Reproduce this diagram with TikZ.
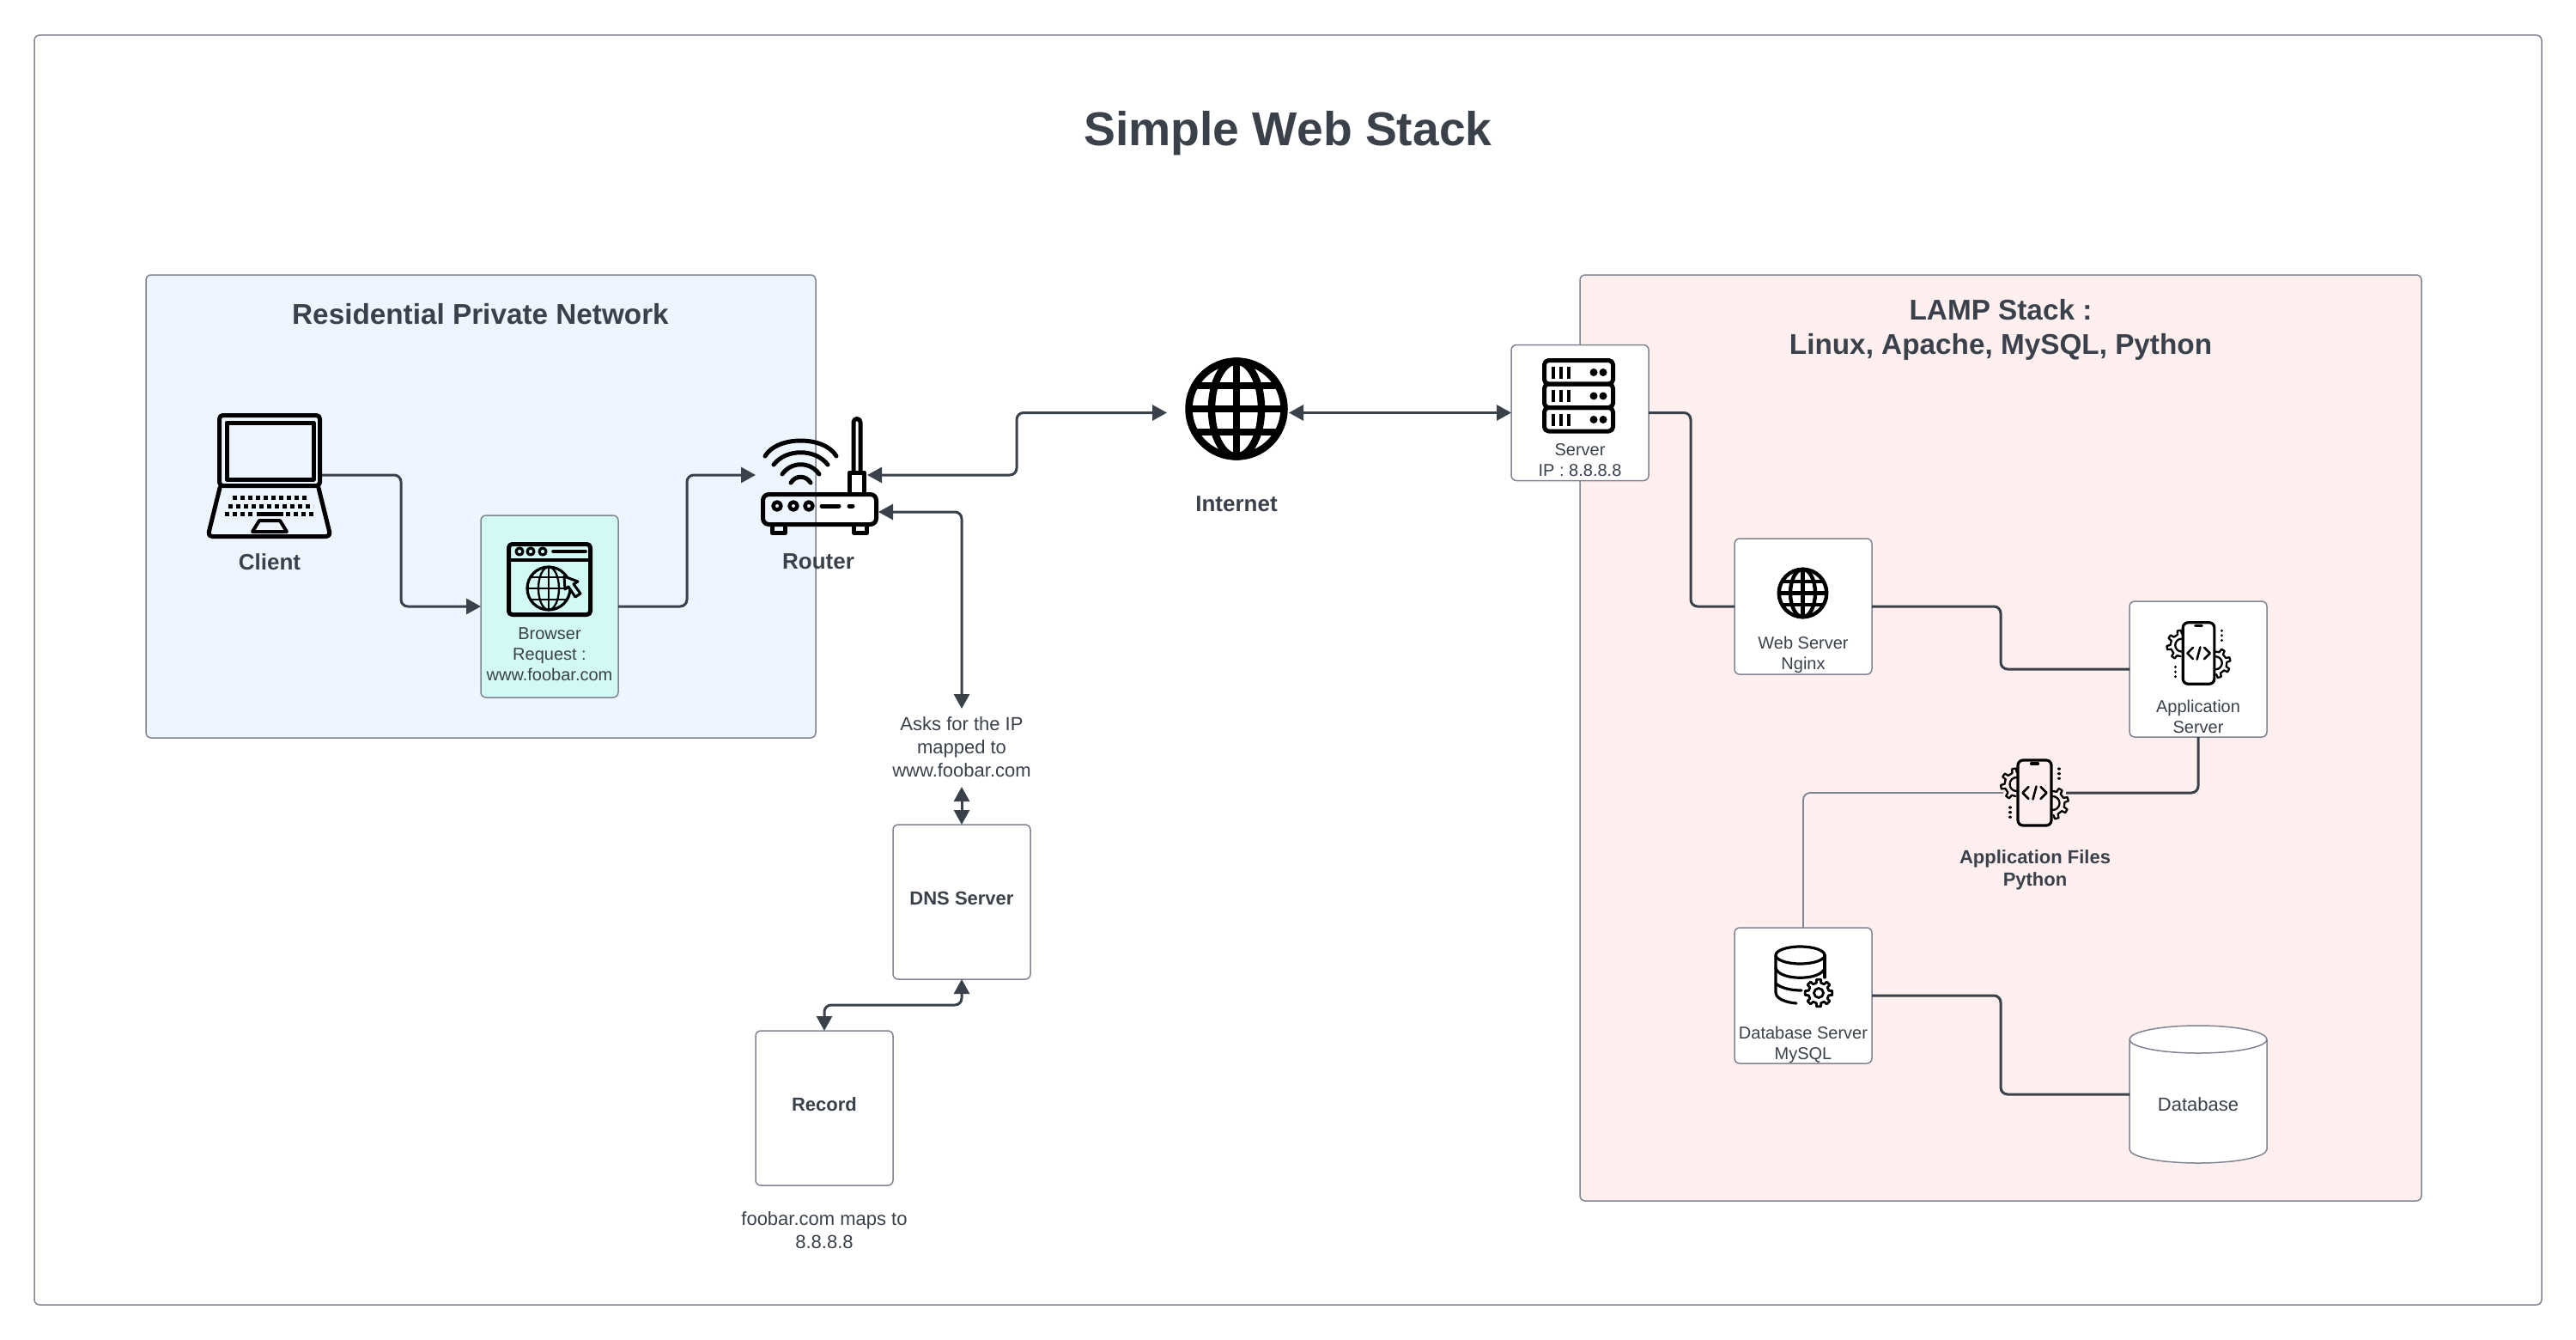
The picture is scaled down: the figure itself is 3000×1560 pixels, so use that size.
\documentclass[tikz,border=0pt]{standalone}
\usepackage{fontspec}
\setmainfont{Liberation Sans}
\usetikzlibrary{arrows.meta}
\definecolor{ink}{HTML}{3A414A}
\definecolor{edge}{HTML}{7F8490}
\definecolor{homeblue}{HTML}{EDF5FF}
\definecolor{lamppink}{HTML}{FFF0EF}
\definecolor{browsermint}{HTML}{D3F9F4}

\begin{document}
\begin{tikzpicture}[x=1pt, y=-1pt,
  every node/.style = {align=center, inner sep=0pt, outer sep=0pt, text=ink},
  panel/.style = {shape=rectangle, draw=edge, line width=1.5pt, rounded corners=6pt},
  card/.style = {panel, fill=white, minimum width=160pt, minimum height=158pt},
  spot/.style = {shape=rectangle},
  smalltext/.style = {font=\fontsize{20}{24}\selectfont},
  notetext/.style = {font=\fontsize{22}{27}\selectfont},
  boldtext/.style = {font=\fontsize{22}{26.5}\selectfont\bfseries},
  headtext/.style = {font=\fontsize{26}{30}\selectfont\bfseries},
  paneltext/.style = {font=\fontsize{33.3}{40}\selectfont\bfseries},
  wire/.style = {draw=ink, line width=3pt, rounded corners=8pt},
  flow/.style = {wire, -{Triangle[length=17pt,width=18pt]}},
  twoway/.style = {wire, {Triangle[length=17pt,width=18pt]}-{Triangle[length=17pt,width=18pt]}},
  icon/.style = {draw=black, line width=5pt, line cap=round, line join=round},
  fineicon/.style = {icon, line width=3.2pt},
  cogline/.style = {icon, line width=2.3pt},
  globe/.pic = {
    \draw[draw=black] (0,0) circle[radius=55.5];
    \draw[draw=black] (0,0) ellipse[x radius=29, y radius=55.5];
    \draw[draw=black] (0,-55.5) -- (0,55.5);
    \draw[draw=black] (-55.5,0) -- (55.5,0);
    \draw[draw=black] (-48,-27) -- (48,-27);
    \draw[draw=black] (-48,27) -- (48,27);
  },
  phone/.pic = {
    \draw[fineicon, rounded corners=6pt] (-19.5,-38) rectangle (19.5,38);
    \draw[fineicon] (-4,-34) -- (4,-34);
    \draw[cogline, line width=2.6pt] (-7,-7) -- (-14,0) -- (-7,7);
    \draw[cogline, line width=2.6pt] (7,-7) -- (14,0) -- (7,7);
    \draw[cogline, line width=2.6pt] (2,-7.5) -- (-2,7.5);
    \draw[cogline, shift={(-21,-10)}] (95:14)
      \foreach \a in {125,170,215,260} { -- (\a-11:14) -- (\a-7:18.5) -- (\a+7:18.5) -- (\a+11:14) };
    \draw[cogline, shift={(21,12)}] (-90:14)
      \foreach \a in {-60,-15,30,75} { -- (\a-11:14) -- (\a-7:18.5) -- (\a+7:18.5) -- (\a+11:14) };
    \draw[cogline] (-21,-2) arc[start angle=90, end angle=270, radius=8];
    \draw[cogline] (21,20) arc[start angle=90, end angle=-90, radius=8];
    \draw[fineicon, dash pattern=on 0.1pt off 5.5pt] (28.5,-28) -- (28.5,-14);
    \draw[fineicon, dash pattern=on 0.1pt off 5.5pt] (-28.5,17) -- (-28.5,31);
  }]
  \useasboundingbox (0,0) rectangle (3000,1560);

  \node[panel, fill=white, minimum width=2920pt, minimum height=1478pt] (frame) at (1500,780) {};
  \node[font=\fontsize{55.3}{60}\selectfont\bfseries] (title) at (1500,155) {Simple Web Stack};

  \node[panel, fill=homeblue, minimum width=780pt, minimum height=539pt] (home) at (560,589.5) {};
  \node[panel, fill=lamppink, minimum width=980pt, minimum height=1078pt] (lamp) at (2330,859) {};
  \node[paneltext] (hometitle) at (559.5,366) {Residential Private Network};
  \node[paneltext] (lamptitle) at (2330,384) {LAMP Stack :\\Linux, Apache, MySQL, Python};

  \node[spot, minimum width=122pt, minimum height=147pt] (client) at (314,553) {};
  \node[headtext] (clienttext) at (314,654) {Client};
  \node[panel, fill=browsermint, minimum width=160pt, minimum height=212pt] (browser) at (640,706) {};
  \node[smalltext] (browsertext) at (640,762) {Browser\\Request :\\www.foobar.com};
  \node[spot, minimum width=130pt, minimum height=60pt] (router) at (945,553) {};
  \node[spot, minimum width=137pt, minimum height=34pt] (routerbase) at (954.5,596) {};
  \node[headtext] (routertext) at (953,654) {Router};
  \node[spot, minimum width=142pt, minimum height=120pt] (internet) at (1430,480.5) {};
  \node[headtext] (internettext) at (1440,587) {Internet};
  \node[spot, minimum width=160pt, minimum height=91pt] (asks) at (1120,870.5) {};
  \node[notetext] (askstext) at (1120,870) {Asks for the IP\\mapped to\\www.foobar.com};
  \node[card, minimum height=180pt] (dns) at (1120,1050) {};
  \node[boldtext] (dnstext) at (1120,1046) {DNS Server};
  \node[card, minimum height=180pt] (record) at (960,1290) {};
  \node[boldtext] (recordtext) at (960,1286) {Record};
  \node[notetext] (recordnote) at (960,1432) {foobar.com maps to\\8.8.8.8};

  \node[card] (server) at (1840,480.5) {};
  \node[smalltext] (servertext) at (1840,535.5) {Server\\IP : 8.8.8.8};
  \node[card] (web) at (2100,706) {};
  \node[smalltext] (webtext) at (2100,762.5) {Web Server\\Nginx};
  \node[card] (app) at (2560,779) {};
  \node[smalltext] (apptext) at (2560,834) {Application\\Server};
  \node[spot, minimum width=73pt, minimum height=80pt] (files) at (2369.5,923) {};
  \node[boldtext] (filestext) at (2370,1013) {Application Files\\Python};
  \node[card] (db) at (2100,1159) {};
  \node[smalltext] (dbtext) at (2100,1216) {Database Server\\MySQL};
  \node[spot, minimum width=160pt, minimum height=160pt] (store) at (2560,1274) {};
  \draw[draw=edge, line width=1.5pt, fill=white] (store.west |- 0,1210) -- (store.west |- 0,1338)
    arc[start angle=180, end angle=0, x radius=80, y radius=16] -- (store.east |- 0,1210)
    arc[start angle=0, end angle=-180, x radius=80, y radius=16]
    arc[start angle=180, end angle=0, x radius=80, y radius=16];
  \node[notetext] (storetext) at (2560,1286) {Database};

  \draw[flow] (client.east) -| (467,706) -- (browser.west);
  \draw[flow] (browser.east) -| (800,553) -- (router.west);
  \draw[twoway] (router.east) -| (1184,480.5) -- (internet.west);
  \draw[twoway] (internet.east) -- (server.west);
  \draw[twoway] (routerbase.east) -| (asks.north);
  \draw[twoway] (asks.south) -- (dns.north);
  \draw[twoway] (dns.south) -- ++(0,30) -| (record.north);
  \draw[wire] (server.east) -| (1969,706) -- (web.west);
  \draw[wire] (web.east) -| (2330,779) -- (app.west);
  \draw[wire] (app.south) |- (files.east);
  \draw[wire, draw=edge, line width=1.8pt] (files.west) -| (db.north);
  \draw[wire] (db.east) -| (2330,1274) -- (store.west);

  \draw[icon, rounded corners=4pt] (255.5,483.5) rectangle (372.5,565.5);
  \draw[icon] (264,492) rectangle (365,558);
  \draw[icon, rounded corners=5pt] (256,568) -- (242,624.5) -- (385,624.5) -- (371,568);
  \draw[icon, line cap=butt, dash pattern=on 5pt off 4pt] (271,579) -- (359,579);
  \draw[icon, line cap=butt, dash pattern=on 5pt off 4pt] (266,589) -- (365,589);
  \draw[icon, line cap=butt, dash pattern=on 5pt off 4pt] (262,598) -- (297,598);
  \draw[icon, line cap=butt] (299,598) -- (330,598);
  \draw[icon, line cap=butt, dash pattern=on 5pt off 4pt] (333,598) -- (368,598);
  \draw[icon, line width=4pt] (302,606) -- (326,606) -- (334,619) -- (294,619) -- cycle;

  \draw[icon, rounded corners=4pt] (592.5,633.5) rectangle (687.5,715.5);
  \draw[fineicon] (592,652) -- (688,652);
  \foreach \x in {605,618,632} \draw[fineicon] (\x,642) circle[radius=4];
  \draw[icon, line width=3.6pt] (644,642) -- (682,642);
  \draw[fineicon] (639,685) circle[radius=25];
  \draw[cogline] (639,685) ellipse[x radius=12, y radius=25];
  \draw[cogline] (639,660) -- (639,710);
  \draw[cogline] (614,685) -- (664,685);
  \draw[cogline] (618,672) -- (660,672);
  \draw[cogline] (618,698) -- (660,698);
  \draw[cogline, line width=3pt, fill=browsermint] (657,671) -- (658,686) -- (662,683) -- (670,695) -- (676,691) -- (668,680) -- (673,677) -- cycle;

  \draw[icon, rounded corners=7pt] (888.5,575.5) rectangle (1020.5,610.5);
  \draw[icon] (899.5,611) -- (899.5,620.5) -- (914.5,620.5) -- (914.5,611);
  \draw[icon] (994.5,611) -- (994.5,620.5) -- (1009.5,620.5) -- (1009.5,611);
  \draw[icon] (989.5,575) -- (989.5,550) -- (1006.5,550) -- (1006.5,575);
  \draw[icon, rounded corners=4pt] (994,550) -- (994,487.5) -- (1002,487.5) -- (1002,550);
  \draw[icon] (891,531) .. controls (905,507) and (960,507) .. (974,531);
  \draw[icon] (901,541) .. controls (915.5,522) and (949.5,522) .. (964,541);
  \draw[icon] (911,552) .. controls (921.5,537) and (943.5,537) .. (954,552);
  \draw[icon] (921,562) .. controls (926.5,553) and (938.5,553) .. (944,562);
  \foreach \x in {905,924,942} \draw[icon, line width=4.5pt] (\x,589) circle[radius=4.5];
  \draw[icon] (957,589) -- (977,589);
  \draw[icon] (989,589) -- (993,589);

  \pic[line width=8.5pt] at (1440,476) {globe};
  \pic[scale=0.5, line width=4.4pt] at (2099.5,690.5) {globe};

  \foreach \y in {419.5,447,474.5} {
    \draw[icon, rounded corners=5pt] (1798.5,\y) rectangle (1878.5,\y+27.5);
    \foreach \x in {1809,1818,1827} \draw[icon, line width=3.5pt, line cap=butt] (\x,\y+7) -- (\x,\y+21);
    \foreach \x in {1856,1867} \fill (\x,\y+14) circle[radius=4.5];
  }

  \pic[scale=0.94] at (2560.5,760.5) {phone};
  \pic at (2369.5,923) {phone};

  \draw[fineicon] (2096.5,1112) ellipse[x radius=28.5, y radius=10];
  \draw[fineicon] (2068,1112) -- (2068,1155) .. controls (2068,1163) and (2080,1167) .. (2092,1168);
  \draw[fineicon] (2125,1112) -- (2125,1138);
  \draw[fineicon] (2068,1127) .. controls (2072,1142) and (2121,1142) .. (2125,1127);
  \draw[fineicon] (2068,1145) .. controls (2074,1150) and (2085,1153) .. (2098,1153);
  \draw[cogline, line width=2.8pt, shift={(2118,1156)}] (-22.5:12)
    \foreach \a in {0,45,...,315} { -- (\a-13:12) -- (\a-9:16) -- (\a+9:16) -- (\a+13:12) } -- cycle;
  \draw[cogline, line width=2.8pt] (2118,1156) circle[radius=5.5];
\end{tikzpicture}
\end{document}
